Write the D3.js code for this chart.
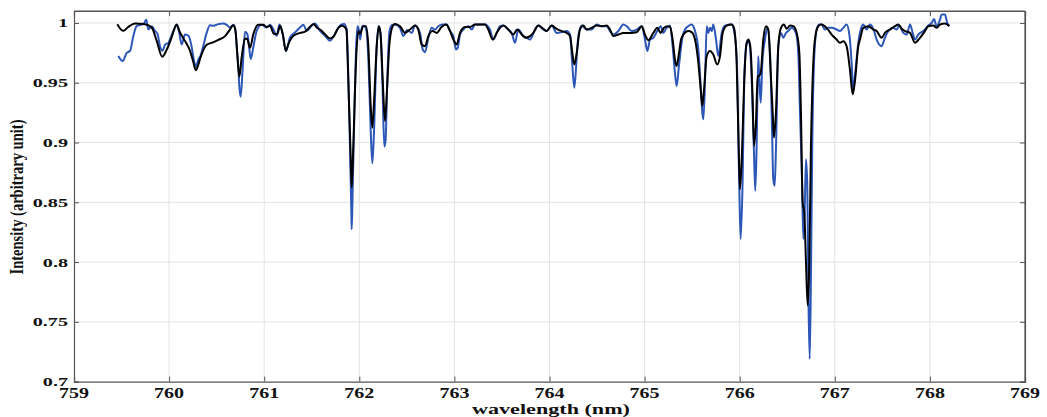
<!DOCTYPE html>
<html><head><meta charset="utf-8">
<script src="https://cdn.jsdelivr.net/npm/d3@7"></script>
<style>body{margin:0;background:#fff}svg{display:block}</style>
</head><body>
<svg id="c" width="1047" height="417"></svg>
<script>
// ---- data ----
const blueX = [759.466,759.512,759.554,759.589,759.624,759.658,759.711,759.736,759.760,759.781,759.817,759.852,759.878,759.904,759.931,759.957,759.992,760.044,760.079,760.107,760.132,760.167,760.205,760.237,760.262,760.283,760.307,760.330,760.360,760.395,760.430,760.465,760.517,760.564,760.606,760.640,760.675,760.693,760.717,760.730,760.738,760.753,760.774,760.798,760.822,760.840,760.858,760.885,760.921,760.973,761.026,761.061,761.096,761.132,761.159,761.195,761.229,761.271,761.324,761.377,761.412,761.447,761.499,761.533,761.587,761.640,761.692,761.727,761.780,761.815,761.840,761.866,761.886,761.907,761.917,761.920,761.928,761.944,761.965,761.981,761.997,762.010,762.028,762.049,762.075,762.096,762.120,762.137,762.155,762.181,762.202,762.223,762.244,762.263,762.276,762.297,762.318,762.344,762.375,762.428,762.463,762.502,762.551,762.586,762.638,762.667,762.691,762.726,762.761,762.796,762.831,762.877,762.919,762.954,762.989,763.017,763.035,763.059,763.112,763.146,763.182,763.217,763.269,763.322,763.374,763.409,763.445,763.480,763.514,763.567,763.602,763.637,763.672,763.725,763.760,763.795,763.848,763.882,763.935,763.970,764.023,764.075,764.128,764.180,764.216,764.237,764.261,764.284,764.303,764.339,764.391,764.443,764.496,764.549,764.601,764.636,764.671,764.724,764.776,764.812,764.864,764.917,764.970,765.004,765.029,765.057,765.092,765.134,765.169,765.197,765.232,765.267,765.295,765.319,765.337,765.361,765.400,765.425,765.458,765.494,765.530,765.565,765.590,765.607,765.618,765.636,765.653,765.670,765.688,765.706,765.722,765.751,765.775,765.811,765.845,765.915,765.940,765.968,765.996,766.010,766.031,766.048,766.073,766.100,766.126,766.150,766.164,766.178,766.195,766.206,766.221,766.238,766.266,766.290,766.319,766.340,766.353,766.368,766.382,766.406,766.434,766.458,766.487,766.511,766.546,766.591,766.616,766.634,766.655,766.669,766.683,766.697,766.711,766.725,766.736,766.749,766.763,766.781,766.809,766.837,766.861,766.896,766.931,766.967,767.019,767.054,767.089,767.124,767.152,767.177,767.194,767.215,767.247,767.275,767.299,767.335,767.370,767.405,767.440,767.492,767.527,767.562,767.615,767.650,767.678,767.720,767.756,767.791,767.819,767.843,767.878,767.930,767.983,768.019,768.043,768.071,768.106,768.123,768.158,768.182,768.204];
const blueY = [0.9723,0.9681,0.975,0.9765,0.989,0.9973,0.9987,0.9997,1.0026,0.9945,0.9973,0.9934,0.9909,0.9806,0.9767,0.9817,0.9834,0.9932,0.9978,0.9917,0.982,0.9903,0.9892,0.98,0.9684,0.9634,0.9694,0.9725,0.9809,0.9917,0.998,0.9976,0.999,0.9995,0.9984,0.9962,0.9984,0.9962,0.974,0.96,0.9475,0.9383,0.9628,0.9926,0.9907,0.9809,0.9698,0.9795,0.9934,0.9984,0.9962,0.9984,0.9948,0.9892,0.9988,0.9907,0.9763,0.9878,0.992,0.9962,0.9984,0.9934,0.9976,0.9995,0.9934,0.9892,0.9851,0.9884,0.9962,0.9987,0.9992,0.9951,0.9517,0.8765,0.839,0.8276,0.8515,0.9099,0.9767,0.9973,0.9934,0.9861,0.9967,0.9976,0.9934,0.9684,0.9099,0.8826,0.9099,0.9767,0.9973,0.9917,0.9475,0.8966,0.9016,0.96,0.9934,0.9984,0.9988,0.9959,0.989,0.9942,0.9917,0.9978,0.9917,0.9778,0.9756,0.9876,0.9959,0.9945,0.9973,0.9987,0.9987,0.9932,0.989,0.9778,0.9792,0.9903,0.9959,0.9973,0.9945,0.9987,0.9987,0.9987,0.9945,0.9861,0.9917,0.9973,0.9978,0.9945,0.9917,0.9834,0.9945,0.989,0.9876,0.9861,0.9945,0.9978,0.9945,0.9932,0.9978,0.9917,0.9923,0.9932,0.9903,0.9684,0.9458,0.9684,0.989,0.9978,0.9945,0.9945,0.9987,0.9973,0.9973,0.9932,0.9903,0.9932,0.9987,0.9973,0.9932,0.9945,0.9973,0.9861,0.9765,0.9861,0.9876,0.9932,0.9973,0.9917,0.9959,0.9978,0.9806,0.9583,0.9472,0.9639,0.989,0.9945,0.9973,0.9987,0.9932,0.9778,0.9475,0.925,0.9194,0.9528,0.9973,0.9917,0.9959,0.9932,0.9987,0.9861,0.9723,0.9917,0.9978,0.9987,0.9934,0.9723,0.8609,0.8192,0.8693,0.9528,0.982,0.9848,0.9528,0.8916,0.8596,0.8972,0.9723,0.9528,0.9333,0.9667,0.9861,0.9959,0.975,0.911,0.8693,0.8638,0.8972,0.9806,0.9917,0.9876,0.9917,0.9932,0.9959,0.9917,0.975,0.925,0.8693,0.8192,0.8415,0.886,0.8638,0.758,0.719,0.7858,0.8972,0.9667,0.9945,0.9987,0.9987,0.9945,0.9959,0.9959,0.9945,0.9932,0.9959,0.9987,0.9909,0.9667,0.9431,0.9583,0.9834,0.9951,0.9987,0.9945,0.9987,0.9951,0.9861,0.9806,0.9876,0.9932,0.9959,0.9945,0.9978,0.9917,0.9903,0.9987,0.9917,0.9861,0.9903,0.9932,0.9978,1.0001,1.0034,0.9973,1.0028,1.007,1.007,1.0001,0.9978];

const blackX = [759.455,759.518,759.571,759.641,759.747,759.817,759.870,759.927,759.974,760.026,760.079,760.115,760.167,760.220,760.251,760.281,760.304,760.325,760.395,760.448,760.517,760.588,760.640,760.675,760.698,760.717,760.738,760.763,760.798,760.822,760.851,760.886,760.938,760.991,761.026,761.061,761.103,761.138,761.167,761.195,761.227,761.254,761.307,761.377,761.430,761.474,761.519,761.555,761.587,761.640,761.692,761.727,761.780,761.815,761.850,761.865,761.884,761.909,761.920,761.937,761.965,761.989,762.007,762.042,762.070,762.095,762.120,762.137,762.158,762.183,762.207,762.225,762.246,762.270,762.288,762.315,762.344,762.375,762.428,762.480,762.533,762.586,762.620,762.656,762.691,762.726,762.772,762.814,762.865,762.912,762.954,762.989,763.024,763.059,763.112,763.164,763.217,763.269,763.322,763.356,763.403,763.445,763.480,763.514,763.567,763.619,763.661,763.708,763.753,763.795,763.830,763.882,763.935,763.970,764.023,764.075,764.128,764.180,764.216,764.240,764.261,764.286,764.320,764.355,764.391,764.443,764.496,764.549,764.601,764.636,764.671,764.724,764.776,764.847,764.917,764.970,765.004,765.039,765.092,765.134,765.169,765.204,765.243,765.267,765.295,765.319,765.337,765.361,765.385,765.410,765.458,765.494,765.530,765.565,765.590,765.607,765.625,765.653,765.688,765.722,765.764,765.793,765.821,765.863,765.915,765.940,765.968,765.989,766.003,766.024,766.048,766.073,766.094,766.115,766.136,766.150,766.171,766.189,766.200,766.221,766.248,766.276,766.301,766.326,766.347,766.360,766.381,766.406,766.434,766.465,766.494,766.529,766.564,766.599,766.627,766.644,766.662,766.679,766.697,766.715,766.732,766.749,766.767,766.791,766.826,766.861,766.914,766.967,767.019,767.054,767.089,767.124,767.159,767.188,767.212,767.247,767.265,767.299,767.352,767.405,767.440,767.492,767.527,767.580,767.633,767.667,767.703,767.738,767.791,767.843,767.896,767.948,767.983,768.036,768.071,768.106,768.158,768.204];
const blackY = [0.999,0.9934,0.9967,0.9995,0.999,0.9962,0.985,0.9717,0.9775,0.9878,0.9988,0.992,0.985,0.9767,0.9684,0.9604,0.9642,0.9698,0.9817,0.9834,0.9859,0.989,0.9945,0.998,0.9934,0.974,0.955,0.9711,0.9871,0.9865,0.9792,0.9907,0.9984,0.9984,0.9967,0.9976,0.9907,0.9909,0.9976,0.9907,0.9767,0.9823,0.9892,0.9917,0.9928,0.9962,0.9992,0.9959,0.9945,0.9905,0.9871,0.9884,0.9959,0.9977,0.9962,0.9942,0.9528,0.8888,0.8624,0.8972,0.9667,0.9932,0.9909,0.9973,0.9973,0.9806,0.9306,0.9124,0.9389,0.9806,0.9973,0.989,0.9528,0.918,0.9389,0.9806,0.9959,0.9992,0.9973,0.9917,0.9945,0.9978,0.9945,0.982,0.9806,0.989,0.9932,0.9917,0.9967,0.9987,0.9932,0.9861,0.982,0.9917,0.9967,0.9967,0.9987,0.9987,0.9987,0.9945,0.9861,0.9917,0.9959,0.9978,0.9945,0.9903,0.9945,0.9903,0.9876,0.989,0.9917,0.9978,0.9951,0.9932,0.9978,0.9951,0.9932,0.9917,0.989,0.975,0.9653,0.975,0.9945,0.9978,0.9945,0.9959,0.9978,0.9973,0.9978,0.9945,0.989,0.9903,0.9917,0.9917,0.9923,0.9973,0.9903,0.9856,0.9917,0.9959,0.9917,0.9959,0.9973,0.9967,0.9861,0.9694,0.9639,0.9745,0.9865,0.9903,0.9932,0.9923,0.9861,0.9667,0.9444,0.9305,0.9444,0.9723,0.9765,0.9736,0.9653,0.9723,0.9917,0.9978,0.9987,0.9959,0.9667,0.8972,0.8609,0.8916,0.9528,0.9834,0.9861,0.9778,0.9361,0.8972,0.9166,0.9556,0.9556,0.9583,0.9861,0.9973,0.9945,0.9583,0.925,0.9041,0.925,0.9806,0.9959,0.9987,0.9951,0.9978,0.9973,0.9917,0.975,0.925,0.8498,0.8415,0.7997,0.7636,0.7997,0.8972,0.9528,0.9861,0.9973,0.9987,0.9959,0.9903,0.9861,0.9834,0.9848,0.9806,0.9611,0.9402,0.9517,0.9806,0.9861,0.9959,0.9973,0.9945,0.9932,0.9876,0.9917,0.9945,0.9973,0.9987,0.9951,0.9932,0.9917,0.9834,0.9876,0.9932,0.9973,0.9978,0.9959,0.9987,0.9995,0.9973];

const xTicks = [759,760,761,762,763,764,765,766,767,768,769];
const yTicks = [0.7,0.75,0.8,0.85,0.9,0.95,1];
const yTickLabels = ["0.7","0.75","0.8","0.85","0.9","0.95","1"];
const xTitle = "wavelength (nm)";
const yTitle = "Intensity (arbitrary unit)";

// ---- layout ----
const L = 74, R = 1025, T = 11, B = 381.6;
const svg = d3.select("#c");
const x = d3.scaleLinear().domain([759, 769]).range([L, R]);
const y = d3.scaleLinear().domain([0.7, 1.01]).range([B, T]);
const fontFam = "'Liberation Serif','Times New Roman',serif";

// grid
const grid = svg.append("g").attr("stroke", "#e3e3e3").attr("stroke-width", 1);
xTicks.slice(1, -1).forEach(v => grid.append("line").attr("x1", x(v)).attr("x2", x(v)).attr("y1", T).attr("y2", B));
yTicks.slice(1).forEach(v => grid.append("line").attr("x1", L).attr("x2", R).attr("y1", y(v)).attr("y2", y(v)));

// lines
const clip = svg.append("clipPath").attr("id", "clp").append("rect").attr("x", L).attr("y", T).attr("width", R - L).attr("height", B - T);
const lineGen = d3.line().x(d => x(d[0])).y(d => y(d[1])).curve(d3.curveMonotoneX);
const blueData = blueX.map((v, i) => [v, blueY[i]]);
const blackData = blackX.map((v, i) => [v, blackY[i]]);
const plot = svg.append("g").attr("clip-path", "url(#clp)");
plot.append("path").attr("d", lineGen(blueData)).attr("fill", "none").attr("stroke", "#2c56b8").attr("stroke-width", 2).attr("stroke-linejoin", "round");
plot.append("path").attr("d", lineGen(blackData)).attr("fill", "none").attr("stroke", "#000").attr("stroke-width", 2).attr("stroke-linejoin", "round");

// axes (MATLAB style, inward ticks, box)
const axCol = "#555";
const xb = svg.append("g").attr("transform", `translate(0,${B})`)
  .call(d3.axisBottom(x).tickValues(xTicks).tickSize(-5).tickFormat(""));
const xt = svg.append("g").attr("transform", `translate(0,${T})`)
  .call(d3.axisTop(x).tickValues(xTicks).tickSize(-5).tickFormat(""));
const yl = svg.append("g").attr("transform", `translate(${L},0)`)
  .call(d3.axisLeft(y).tickValues(yTicks).tickSize(-5).tickFormat(""));
const yr = svg.append("g").attr("transform", `translate(${R},0)`)
  .call(d3.axisRight(y).tickValues(yTicks).tickSize(-5).tickFormat(""));
[xb, xt, yl, yr].forEach(g => {
  g.select(".domain").attr("stroke", axCol).attr("stroke-width", 1.2);
  g.selectAll(".tick line").attr("stroke", axCol);
});
svg.append("line").attr("x1", L).attr("x2", R).attr("y1", T).attr("y2", T).attr("stroke", axCol).attr("stroke-width", 1.2);
svg.append("line").attr("x1", R).attr("x2", R).attr("y1", T).attr("y2", B).attr("stroke", axCol).attr("stroke-width", 1.2);

// tick labels
xTicks.forEach(v => {
  svg.append("g").attr("transform", `translate(${x(v)},398) scale(1.38,1)`)
    .append("text").attr("text-anchor", "middle").attr("font-family", fontFam)
    .attr("font-weight", "bold").attr("font-size", 14.5).attr("fill", "#111").text(String(v));
});
yTicks.forEach((v, i) => {
  svg.append("g").attr("transform", `translate(68,${y(v) + 4.5}) scale(1.55,1)`)
    .append("text").attr("text-anchor", "end").attr("font-family", fontFam)
    .attr("font-weight", "bold").attr("font-size", 13).attr("fill", "#111").text(yTickLabels[i]);
});

// axis titles
svg.append("text").attr("x", 551).attr("y", 414).attr("text-anchor", "middle")
  .attr("font-family", fontFam).attr("font-weight", "bold").attr("font-size", 14.5)
  .attr("textLength", 158).attr("lengthAdjust", "spacingAndGlyphs").attr("fill", "#111").text(xTitle);
svg.append("g").attr("transform", "translate(23,197) scale(1.4,1) rotate(-90)")
  .append("text").attr("text-anchor", "middle").attr("font-family", fontFam)
  .attr("font-weight", "bold").attr("font-size", 13).attr("textLength", 155)
  .attr("lengthAdjust", "spacingAndGlyphs").attr("fill", "#111").text(yTitle);
</script>
</body></html>
